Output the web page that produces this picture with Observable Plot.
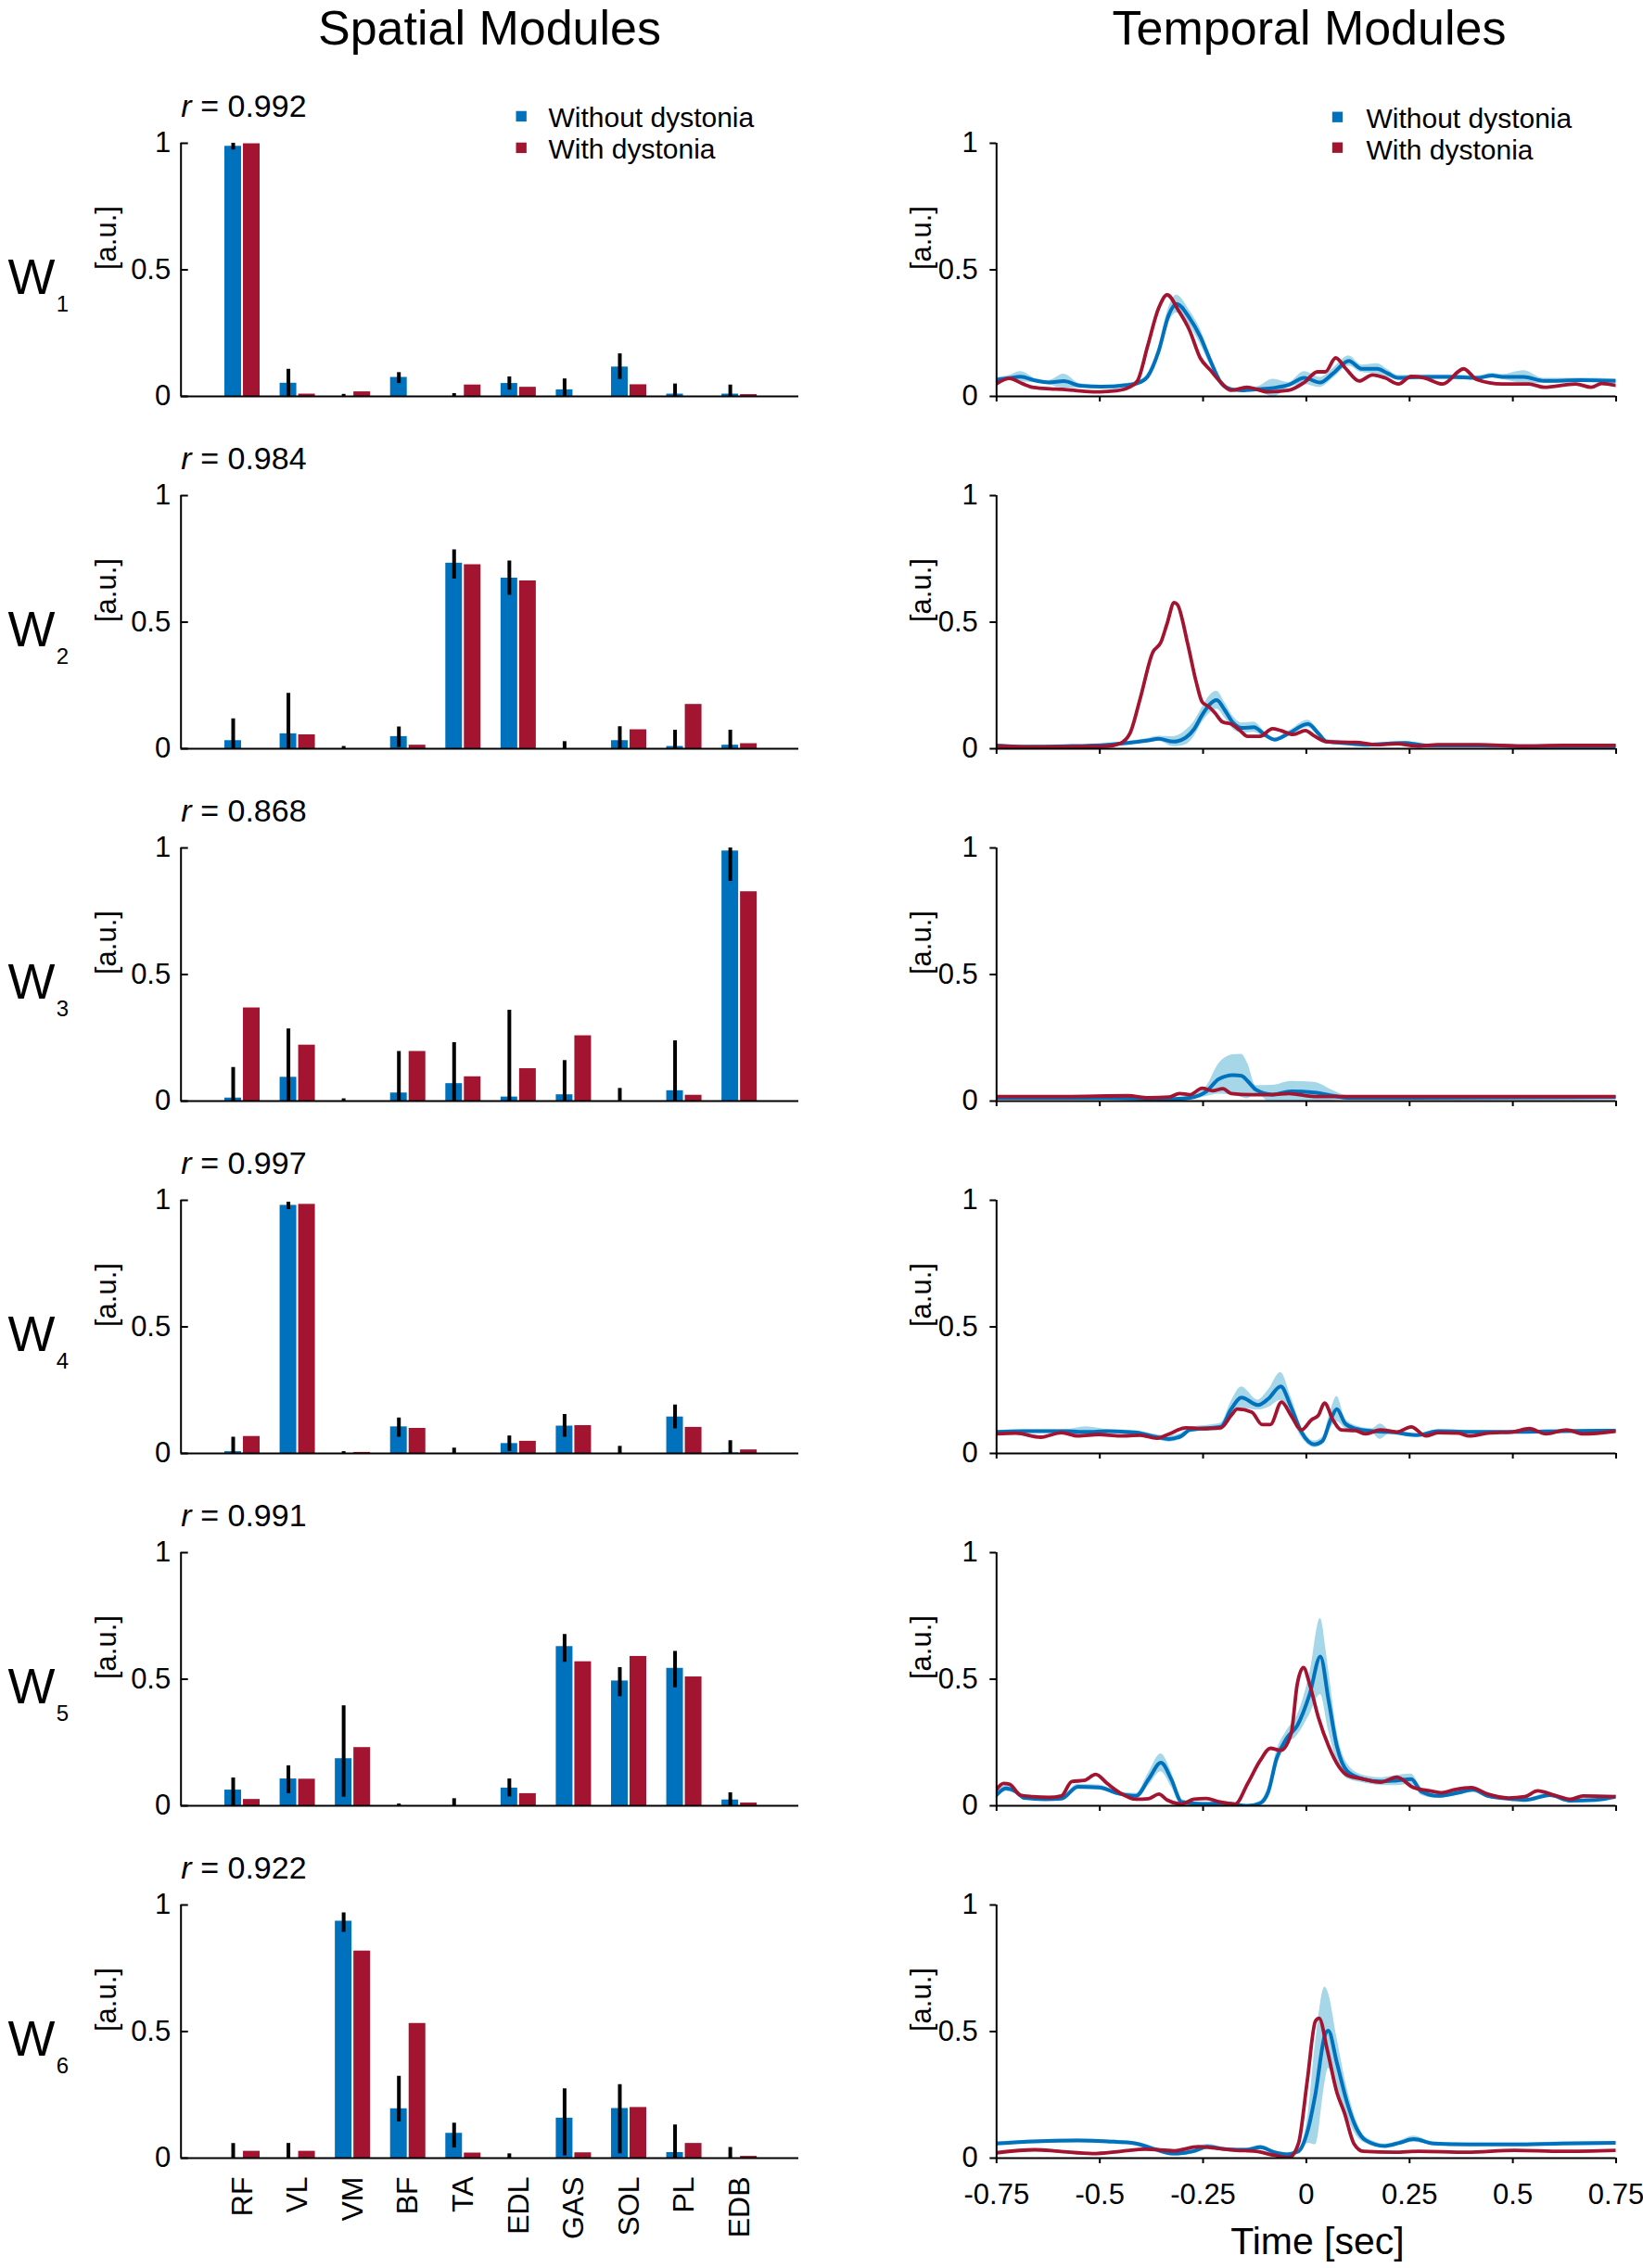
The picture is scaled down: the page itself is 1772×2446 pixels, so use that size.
<!DOCTYPE html>
<html><head><meta charset="utf-8">
<script src="https://cdn.jsdelivr.net/npm/d3@7"></script>
<script src="https://cdn.jsdelivr.net/npm/@observablehq/plot@0.6"></script>
<style>
html,body{margin:0;padding:0;background:#fff;}
#fig{position:relative;width:1772px;height:2446px;font-family:"Liberation Sans",Arial,Helvetica,sans-serif;color:#000;overflow:hidden;}
.ttl{position:absolute;top:4px;font-size:52px;line-height:52px;white-space:nowrap;transform:translateX(-50%);}
</style></head>
<body><div id="fig"></div>
<script>
// ---------------- DATA ----------------
const muscles = ["RF","VL","VM","BF","TA","EDL","GAS","SOL","PL","EDB"];
const moduleIds = ["1","2","3","4","5","6"];
const rValues = ["0.992","0.984","0.868","0.997","0.991","0.922"];
const legendLabels = ["Without dystonia","With dystonia"];
const yTicks = [0, 0.5, 1];
const timeTicks = [-0.75, -0.5, -0.25, 0, 0.25, 0.5, 0.75];

// spatial modules: without dystonia (mean, error bar bounds) and with dystonia
const blueMean = [
  [0.988,0.052,0.000,0.075,0.000,0.051,0.026,0.116,0.009,0.009],
  [0.032,0.059,0.000,0.048,0.733,0.674,0.000,0.032,0.009,0.014],
  [0.012,0.094,0.000,0.032,0.069,0.016,0.025,0.000,0.041,0.988],
  [0.007,0.980,0.000,0.105,0.000,0.039,0.108,0.000,0.144,0.002],
  [0.062,0.106,0.186,0.000,0.000,0.070,0.629,0.493,0.543,0.023],
  [0.000,0.000,0.936,0.195,0.098,0.000,0.158,0.196,0.022,0.000]
];
const blueErrLo = [
  [0.973,0,0,0.051,0,0.025,0,0.067,0,0],
  [0,0,0,0.005,0.670,0.606,0,0,0,0],
  [0,0,0,0,0,0,0,0,0,0.868],
  [0,0.963,0,0.064,0,0.008,0.064,0,0.097,0],
  [0,0.048,0.034,0,0,0.035,0.567,0.431,0.466,0],
  [0,0,0.892,0.143,0.040,0,0.009,0.017,0,0]
];
const blueErrHi = [
  [1.003,0.107,0.008,0.094,0.011,0.077,0.069,0.168,0.049,0.045],
  [0.118,0.219,0.009,0.086,0.786,0.742,0.028,0.087,0.073,0.073],
  [0.133,0.285,0.009,0.196,0.231,0.359,0.160,0.050,0.238,1.100],
  [0.064,0.993,0.007,0.140,0.021,0.069,0.154,0.028,0.191,0.050],
  [0.110,0.158,0.395,0.007,0.028,0.106,0.677,0.546,0.610,0.051],
  [0.058,0.058,0.969,0.323,0.138,0.017,0.274,0.290,0.131,0.042]
];
const redMean = [
  [0.998,0.009,0.018,0.000,0.045,0.036,0.000,0.046,0.000,0.007],
  [0.000,0.055,0.000,0.014,0.727,0.663,0.000,0.075,0.175,0.020],
  [0.368,0.221,0.000,0.196,0.096,0.128,0.258,0.000,0.023,0.827],
  [0.067,0.984,0.004,0.099,0.000,0.048,0.110,0.000,0.103,0.014],
  [0.025,0.105,0.230,0.000,0.000,0.048,0.569,0.590,0.509,0.011],
  [0.027,0.027,0.818,0.532,0.020,0.000,0.021,0.200,0.058,0.007]
];

// temporal modules: without dystonia [t, mean, sd]
const tBlue1 = [[-0.75,0.066,0.008],[-0.72,0.072,0.01],[-0.692,0.078,0.02],[-0.655,0.062,0.008],[-0.624,0.055,0.008],[-0.587,0.060,0.028],[-0.548,0.042,0.008],[-0.497,0.038,0.006],[-0.434,0.045,0.006],[-0.409,0.052,0.008],[-0.384,0.079,0.012],[-0.358,0.176,0.02],[-0.333,0.322,0.03],[-0.314,0.365,0.035],[-0.283,0.310,0.03],[-0.257,0.237,0.03],[-0.232,0.140,0.02],[-0.207,0.055,0.012],[-0.182,0.028,0.008],[-0.156,0.024,0.006],[-0.118,0.028,0.01],[-0.08,0.033,0.035],[-0.043,0.045,0.01],[-0.005,0.073,0.025],[0.033,0.055,0.02],[0.065,0.091,0.02],[0.103,0.140,0.02],[0.134,0.109,0.015],[0.172,0.109,0.02],[0.197,0.091,0.015],[0.223,0.073,0.01],[0.286,0.077,0.008],[0.349,0.077,0.008],[0.412,0.073,0.008],[0.45,0.082,0.01],[0.475,0.077,0.01],[0.526,0.077,0.025],[0.576,0.061,0.01],[0.665,0.064,0.008],[0.75,0.061,0.008]];
const tBlue2 = [[-0.75,0.013,0.004],[-0.683,0.008,0.003],[-0.583,0.010,0.003],[-0.482,0.016,0.004],[-0.432,0.023,0.006],[-0.382,0.033,0.008],[-0.357,0.039,0.01],[-0.322,0.028,0.02],[-0.292,0.044,0.028],[-0.272,0.077,0.03],[-0.252,0.134,0.03],[-0.234,0.175,0.035],[-0.217,0.192,0.035],[-0.197,0.151,0.03],[-0.177,0.102,0.025],[-0.157,0.082,0.02],[-0.127,0.085,0.02],[-0.102,0.057,0.012],[-0.077,0.036,0.006],[-0.042,0.061,0.01],[0.004,0.098,0.015],[0.029,0.061,0.012],[0.049,0.028,0.008],[0.089,0.023,0.01],[0.139,0.016,0.005],[0.239,0.023,0.005],[0.289,0.013,0.004],[0.419,0.013,0.004],[0.52,0.010,0.003],[0.75,0.010,0.003]];
const tBlue3 = [[-0.75,0.013,0.004],[-0.482,0.013,0.004],[-0.332,0.008,0.004],[-0.282,0.013,0.008],[-0.242,0.038,0.02],[-0.212,0.087,0.06],[-0.177,0.103,0.08],[-0.157,0.100,0.085],[-0.142,0.079,0.07],[-0.122,0.045,0.016],[-0.082,0.026,0.036],[-0.037,0.038,0.04],[0.019,0.034,0.04],[0.069,0.020,0.018],[0.099,0.013,0.008],[0.25,0.013,0.003],[0.75,0.016,0.003]];
const tBlue4 = [[-0.75,0.085,0.006],[-0.683,0.088,0.006],[-0.583,0.088,0.006],[-0.533,0.085,0.02],[-0.482,0.088,0.006],[-0.412,0.082,0.008],[-0.362,0.064,0.01],[-0.332,0.057,0.012],[-0.302,0.069,0.012],[-0.282,0.093,0.01],[-0.232,0.101,0.012],[-0.207,0.105,0.015],[-0.182,0.175,0.03],[-0.157,0.221,0.042],[-0.117,0.191,0.02],[-0.092,0.216,0.035],[-0.062,0.265,0.055],[-0.037,0.183,0.04],[-0.012,0.085,0.02],[0.019,0.036,0.013],[0.039,0.049,0.015],[0.059,0.134,0.035],[0.074,0.175,0.05],[0.094,0.118,0.02],[0.119,0.098,0.012],[0.16,0.088,0.01],[0.179,0.086,0.03],[0.2,0.085,0.01],[0.269,0.072,0.006],[0.319,0.088,0.006],[0.419,0.085,0.006],[0.52,0.085,0.006],[0.62,0.088,0.006],[0.75,0.090,0.006]];
const tBlue5 = [[-0.75,0.042,0.01],[-0.728,0.069,0.012],[-0.703,0.056,0.01],[-0.683,0.031,0.008],[-0.633,0.026,0.006],[-0.593,0.028,0.008],[-0.553,0.075,0.01],[-0.502,0.072,0.01],[-0.452,0.047,0.008],[-0.412,0.039,0.01],[-0.382,0.105,0.025],[-0.352,0.170,0.035],[-0.327,0.105,0.03],[-0.302,0.015,0.01],[-0.252,0.007,0.006],[-0.202,0.010,0.006],[-0.142,0.000,0.004],[-0.112,0.010,0.008],[-0.092,0.056,0.02],[-0.072,0.186,0.03],[-0.047,0.268,0.03],[-0.022,0.317,0.04],[0.008,0.440,0.08],[0.034,0.590,0.15],[0.054,0.415,0.12],[0.074,0.235,0.06],[0.099,0.137,0.03],[0.139,0.105,0.015],[0.179,0.096,0.015],[0.219,0.100,0.02],[0.254,0.105,0.02],[0.279,0.056,0.015],[0.319,0.039,0.01],[0.369,0.052,0.01],[0.404,0.064,0.012],[0.439,0.039,0.008],[0.5,0.026,0.006],[0.53,0.023,0.006],[0.59,0.042,0.008],[0.64,0.020,0.006],[0.70,0.023,0.006],[0.75,0.036,0.006]];
const tBlue6 = [[-0.75,0.058,0.006],[-0.657,0.066,0.006],[-0.553,0.070,0.006],[-0.483,0.066,0.006],[-0.413,0.058,0.006],[-0.367,0.035,0.008],[-0.32,0.018,0.01],[-0.274,0.027,0.01],[-0.239,0.045,0.01],[-0.193,0.035,0.006],[-0.146,0.033,0.006],[-0.111,0.043,0.008],[-0.077,0.023,0.006],[-0.048,0.015,0.006],[-0.019,0.027,0.01],[0.005,0.119,0.06],[0.022,0.253,0.2],[0.045,0.486,0.19],[0.053,0.504,0.15],[0.074,0.376,0.1],[0.097,0.229,0.06],[0.121,0.119,0.03],[0.144,0.070,0.012],[0.19,0.048,0.008],[0.225,0.060,0.008],[0.26,0.075,0.012],[0.307,0.058,0.006],[0.388,0.054,0.006],[0.504,0.054,0.006],[0.62,0.058,0.006],[0.75,0.060,0.006]];
// temporal modules: with dystonia [t, mean]
const tRed1 = [[-0.75,0.05],[-0.719,0.071],[-0.687,0.05],[-0.66,0.035],[-0.62,0.03],[-0.59,0.028],[-0.536,0.02],[-0.5,0.018],[-0.46,0.022],[-0.43,0.035],[-0.409,0.061],[-0.384,0.20],[-0.358,0.347],[-0.337,0.401],[-0.308,0.335],[-0.283,0.262],[-0.257,0.152],[-0.232,0.103],[-0.207,0.055],[-0.182,0.024],[-0.144,0.036],[-0.093,0.018],[-0.043,0.024],[-0.005,0.055],[0.027,0.097],[0.046,0.097],[0.071,0.152],[0.096,0.109],[0.128,0.061],[0.16,0.085],[0.191,0.073],[0.223,0.049],[0.254,0.079],[0.286,0.073],[0.33,0.049],[0.381,0.109],[0.412,0.067],[0.475,0.049],[0.539,0.049],[0.576,0.036],[0.652,0.049],[0.69,0.036],[0.715,0.051],[0.75,0.043]];
const tRed2 = [[-0.75,0.010],[-0.683,0.007],[-0.583,0.008],[-0.482,0.010],[-0.452,0.020],[-0.427,0.061],[-0.402,0.20],[-0.372,0.38],[-0.352,0.421],[-0.337,0.495],[-0.320,0.577],[-0.312,0.569],[-0.287,0.413],[-0.267,0.266],[-0.252,0.184],[-0.237,0.167],[-0.222,0.143],[-0.202,0.105],[-0.182,0.098],[-0.162,0.074],[-0.142,0.049],[-0.112,0.049],[-0.082,0.079],[-0.062,0.072],[-0.032,0.056],[-0.002,0.072],[0.018,0.052],[0.049,0.028],[0.089,0.025],[0.119,0.025],[0.169,0.016],[0.219,0.020],[0.269,0.011],[0.319,0.016],[0.419,0.016],[0.52,0.010],[0.62,0.013],[0.75,0.013]];
const tRed3 = [[-0.75,0.018],[-0.583,0.018],[-0.432,0.021],[-0.382,0.013],[-0.332,0.016],[-0.307,0.030],[-0.282,0.025],[-0.252,0.051],[-0.227,0.041],[-0.202,0.049],[-0.182,0.030],[-0.132,0.025],[-0.082,0.025],[-0.042,0.030],[0.019,0.018],[0.119,0.018],[0.75,0.018]];
const tRed4 = [[-0.75,0.077],[-0.703,0.080],[-0.643,0.064],[-0.593,0.082],[-0.553,0.069],[-0.502,0.075],[-0.452,0.069],[-0.402,0.072],[-0.362,0.060],[-0.332,0.077],[-0.292,0.101],[-0.242,0.098],[-0.207,0.101],[-0.182,0.150],[-0.167,0.175],[-0.132,0.163],[-0.107,0.114],[-0.087,0.114],[-0.06,0.203],[-0.037,0.150],[-0.012,0.093],[0.013,0.134],[0.029,0.150],[0.044,0.199],[0.064,0.134],[0.084,0.093],[0.119,0.090],[0.144,0.077],[0.179,0.093],[0.219,0.085],[0.254,0.105],[0.289,0.069],[0.319,0.082],[0.369,0.080],[0.394,0.069],[0.439,0.080],[0.5,0.085],[0.54,0.098],[0.58,0.077],[0.63,0.093],[0.67,0.077],[0.75,0.088]];
const tRed5 = [[-0.75,0.064],[-0.733,0.088],[-0.718,0.085],[-0.693,0.042],[-0.663,0.036],[-0.623,0.033],[-0.593,0.039],[-0.568,0.096],[-0.538,0.100],[-0.51,0.124],[-0.482,0.088],[-0.452,0.052],[-0.412,0.026],[-0.382,0.028],[-0.357,0.046],[-0.337,0.023],[-0.302,0.007],[-0.272,0.026],[-0.242,0.029],[-0.212,0.016],[-0.172,0.007],[-0.142,0.088],[-0.112,0.178],[-0.087,0.227],[-0.062,0.219],[-0.037,0.284],[-0.022,0.480],[-0.007,0.546],[0.008,0.480],[0.029,0.350],[0.054,0.235],[0.079,0.154],[0.099,0.121],[0.139,0.105],[0.179,0.093],[0.219,0.113],[0.259,0.072],[0.299,0.059],[0.329,0.052],[0.359,0.064],[0.399,0.072],[0.439,0.046],[0.489,0.031],[0.529,0.036],[0.56,0.059],[0.6,0.042],[0.64,0.026],[0.67,0.039],[0.75,0.036]];
const tRed6 = [[-0.75,0.021],[-0.657,0.033],[-0.599,0.027],[-0.518,0.018],[-0.448,0.027],[-0.39,0.035],[-0.32,0.029],[-0.262,0.045],[-0.216,0.039],[-0.17,0.031],[-0.123,0.027],[-0.077,0.011],[-0.042,0.002],[-0.019,0.058],[0.002,0.302],[0.022,0.541],[0.031,0.553],[0.051,0.425],[0.074,0.259],[0.092,0.180],[0.115,0.058],[0.138,0.027],[0.214,0.023],[0.272,0.027],[0.388,0.023],[0.504,0.031],[0.62,0.027],[0.75,0.031]];
const tempBlue = [tBlue1,tBlue2,tBlue3,tBlue4,tBlue5,tBlue6];
const tempRed = [tRed1,tRed2,tRed3,tRed4,tRed5,tRed6];

// ---------------- STYLE / LAYOUT ----------------
const BLUE = "#0072BD", RED = "#A2142F", BAND = "#a6d7e9";
const FONT = '"Liberation Sans", Arial, Helvetica, sans-serif';
const H = 2446;
const ROW0 = 154.3, ROWSTEP = 379.85, FH = 273, MT = 70;
const SP = {left: 0, width: 900, ml: 194.7, mr: 39, xdom: [-1.113, 10.072]};
const TP = {left: 900, width: 872, ml: 174.3, mr: 29.5};
const BAR_OUT = 0.319, BAR_IN = 0.017, BAR_MID = 0.168;
const fmt = d => String(d);
const fig = document.getElementById("fig");

function place(svg, left, top) {
  svg.style.position = "absolute";
  svg.style.left = left + "px";
  svg.style.top = top + "px";
  svg.style.maxWidth = "none";
  fig.appendChild(svg);
}
function marginsFor(k) {
  const top = ROW0 + k * ROWSTEP;
  const mb = k === 5 ? H - (top + FH) : ROWSTEP - FH - MT;
  return {top, mb};
}
const baseStyle = {fontFamily: FONT, fontSize: "31px", color: "black", background: "none", overflow: "visible"};
const txt = (s, o) => Plot.text([s], {lineAnchor: "middle", ...o});

function spatial(k) {
  const {top, mb} = marginsFor(k);
  const last = k === 5;
  const fw = SP.width - SP.ml - SP.mr;
  const rows = muscles.map((m, i) => ({i, b: blueMean[k][i], lo: blueErrLo[k][i], hi: blueErrHi[k][i], r: redMean[k][i]}));
  const marks = [
    Plot.rectY(rows, {x1: d => d.i - BAR_OUT, x2: d => d.i - BAR_IN, y1: 0, y2: "b", fill: BLUE, clip: true}),
    Plot.rectY(rows, {x1: d => d.i + BAR_IN, x2: d => d.i + BAR_OUT, y1: 0, y2: "r", fill: RED, clip: true}),
    Plot.ruleX(rows, {x: d => d.i - BAR_MID, y1: "lo", y2: "hi", stroke: "black", strokeWidth: 4, clip: true}),
    Plot.ruleY([0], {stroke: "black", strokeWidth: 2}),
    Plot.ruleX([SP.xdom[0]], {y1: 0, y2: 1, stroke: "black", strokeWidth: 2}),
    Plot.tickY(yTicks, {y: d => d, insetRight: fw - 8, stroke: "black", strokeWidth: 2}),
    Plot.axisY(yTicks, {tickSize: 0, tickPadding: 11, tickFormat: fmt, fontSize: 31, label: null}),
    txt("r", {frameAnchor: "top-left", dx: 0, dy: -39, textAnchor: "start", fontSize: 34, fontStyle: "italic"}),
    txt("= " + rValues[k], {frameAnchor: "top-left", dx: 21, dy: -39, textAnchor: "start", fontSize: 34}),
    txt("W", {frameAnchor: "left", dx: -186.7, dy: 9, textAnchor: "start", fontSize: 54}),
    txt(moduleIds[k], {frameAnchor: "left", dx: -134.5, dy: 37, textAnchor: "start", fontSize: 24}),
    txt("[a.u.]", {frameAnchor: "left", dx: -79.7, rotate: -90, fontSize: 31})
  ];
  if (k === 0) {
    marks.push(
      Plot.dot([0], {frameAnchor: "top-left", dx: 367, dy: -29.1, symbol: "square", r: 6.4, fill: BLUE}),
      Plot.dot([0], {frameAnchor: "top-left", dx: 367, dy: 4.9, symbol: "square", r: 6.4, fill: RED}),
      txt(legendLabels[0], {frameAnchor: "top-left", dx: 396.3, dy: -27.3, textAnchor: "start", fontSize: 30}),
      txt(legendLabels[1], {frameAnchor: "top-left", dx: 396.3, dy: 6.8, textAnchor: "start", fontSize: 30})
    );
  }
  if (last) {
    marks.push(Plot.axisX(d3.range(muscles.length), {tickFormat: i => muscles[i], tickRotate: -90, tickSize: 0, tickPadding: 20, fontSize: 32, label: null}));
  }
  const svg = Plot.plot({
    width: SP.width, height: MT + FH + mb,
    marginLeft: SP.ml, marginRight: SP.mr, marginTop: MT, marginBottom: mb,
    x: {domain: SP.xdom, axis: last ? undefined : null},
    y: {domain: [0, 1]},
    style: baseStyle,
    marks
  });
  place(svg, SP.left, top - MT);
}

function temporal(k) {
  const {top, mb} = marginsFor(k);
  const last = k === 5;
  const blue = tempBlue[k].map(([t, v, s]) => ({t, v, lo: v - s, hi: v + s}));
  const red = tempRed[k].map(([t, v]) => ({t, v}));
  const marks = [
    Plot.areaY(blue, {x: "t", y1: "lo", y2: "hi", fill: BAND, curve: "monotone-x", clip: true}),
    Plot.lineY(blue, {x: "t", y: "v", stroke: BLUE, strokeWidth: 4, curve: "monotone-x", clip: true}),
    Plot.lineY(red, {x: "t", y: "v", stroke: RED, strokeWidth: 3.8, curve: "monotone-x", clip: true}),
    Plot.ruleY([0], {stroke: "black", strokeWidth: 2}),
    Plot.ruleX([timeTicks[0]], {y1: 0, y2: 1, stroke: "black", strokeWidth: 2}),
    Plot.axisY(yTicks, {tickSize: 7, tickPadding: 13, tickFormat: fmt, fontSize: 31, strokeWidth: 2, label: null}),
    Plot.axisX(timeTicks, {tickSize: 6, tickPadding: 21, tickFormat: last ? fmt : () => "", fontSize: 31, strokeWidth: 2, label: null}),
    txt("[a.u.]", {frameAnchor: "left", dx: -81, rotate: -90, fontSize: 31})
  ];
  if (k === 0) {
    marks.push(
      Plot.dot([0], {frameAnchor: "top-left", dx: 367.7, dy: -28.3, symbol: "square", r: 6.4, fill: BLUE}),
      Plot.dot([0], {frameAnchor: "top-left", dx: 367.7, dy: 4.7, symbol: "square", r: 6.4, fill: RED}),
      txt(legendLabels[0], {frameAnchor: "top-left", dx: 398.7, dy: -26.5, textAnchor: "start", fontSize: 30}),
      txt(legendLabels[1], {frameAnchor: "top-left", dx: 398.7, dy: 7.5, textAnchor: "start", fontSize: 30})
    );
  }
  if (last) {
    marks.push(txt("Time [sec]", {frameAnchor: "bottom", dx: 12, dy: 90.3, fontSize: 41}));
  }
  const svg = Plot.plot({
    width: TP.width, height: MT + FH + mb,
    marginLeft: TP.ml, marginRight: TP.mr, marginTop: MT, marginBottom: mb,
    x: {domain: [timeTicks[0], timeTicks[timeTicks.length - 1]]},
    y: {domain: [0, 1]},
    style: baseStyle,
    marks
  });
  place(svg, TP.left, top - MT);
}

// titles
const t1 = document.createElement("div"); t1.className = "ttl"; t1.style.left = "528px"; t1.textContent = "Spatial Modules"; fig.appendChild(t1);
const t2 = document.createElement("div"); t2.className = "ttl"; t2.style.left = "1412px"; t2.textContent = "Temporal Modules"; fig.appendChild(t2);

for (let k = 0; k < 6; k++) { spatial(k); temporal(k); }
</script>
</body></html>
